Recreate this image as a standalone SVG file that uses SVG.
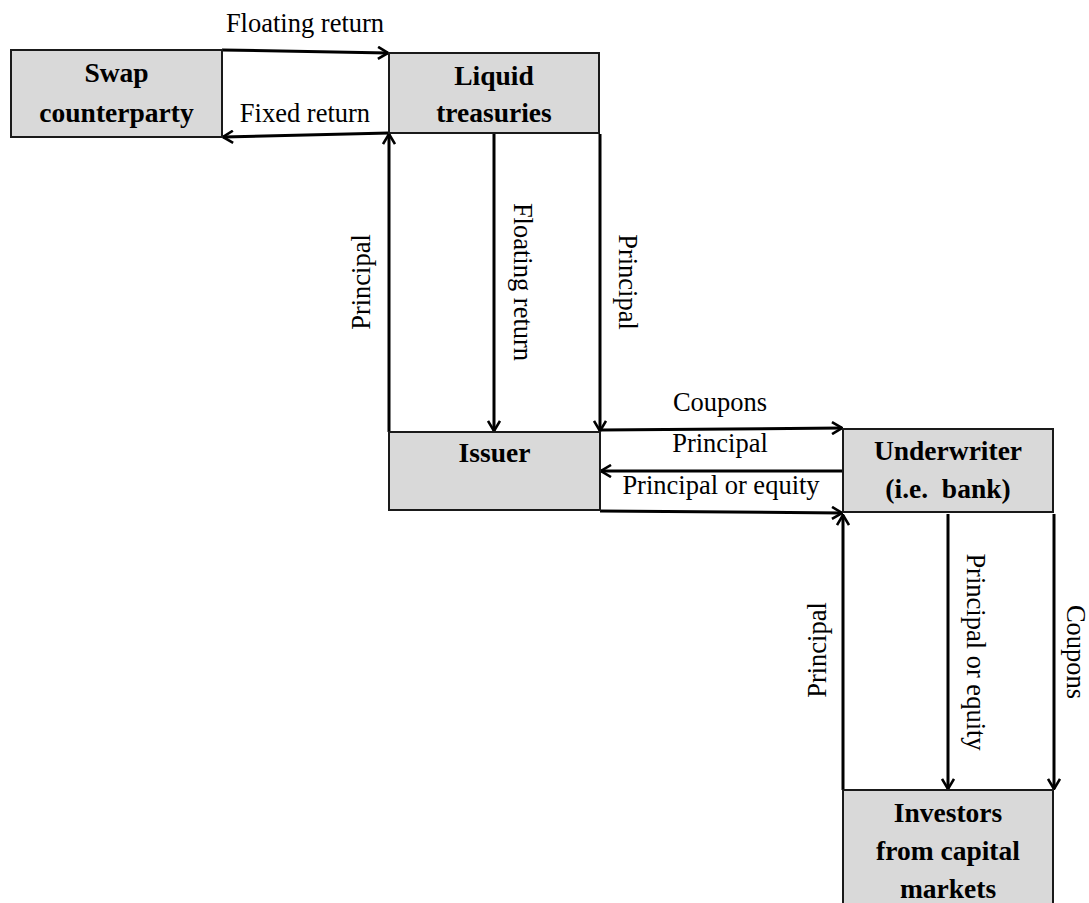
<svg xmlns="http://www.w3.org/2000/svg" width="1089" height="903" viewBox="0 0 1089 903" font-family="Liberation Serif, Times New Roman, serif">
<style>
.box{fill:#d9d9d9;stroke:#1a1a1a;stroke-width:2}
text{font-family:'Liberation Serif','Times New Roman',serif}
.nt{font-size:27.5px;font-weight:bold;text-anchor:middle;fill:#000}
.lb{font-size:26.5px;text-anchor:middle;fill:#000}
.ar{fill:none;stroke:#000;stroke-width:3;marker-end:url(#ah)}
</style>
<defs>
<marker id="ah" viewBox="0 0 12 14" refX="11" refY="7" markerWidth="12" markerHeight="14" markerUnits="userSpaceOnUse" orient="auto">
<path d="M1,1 L11,7 L1,13" fill="none" stroke="#000" stroke-width="2.6"/>
</marker>
</defs>
<rect width="1089" height="903" fill="#fff"/>
<g id="connectors">
<line class="ar" x1="222" y1="50" x2="388" y2="53"/>
<line class="ar" x1="389" y1="133" x2="223" y2="137"/>
<line class="ar" x1="389" y1="432" x2="389" y2="134"/>
<line class="ar" x1="494" y1="134" x2="494" y2="431"/>
<line class="ar" x1="600" y1="134" x2="600" y2="431"/>
<line class="ar" x1="600" y1="430" x2="842" y2="428"/>
<line class="ar" x1="843" y1="471" x2="601" y2="471"/>
<line class="ar" x1="600" y1="511" x2="842" y2="513"/>
<line class="ar" x1="843" y1="790" x2="843" y2="515"/>
<line class="ar" x1="948" y1="514" x2="948" y2="789"/>
<line class="ar" x1="1054" y1="514" x2="1054" y2="789"/>
<text class="lb" x="305" y="32">Floating return</text>
<text class="lb" x="305" y="122">Fixed return</text>
<text class="lb" x="720" y="411">Coupons</text>
<text class="lb" x="720" y="452">Principal</text>
<text class="lb" x="721" y="494">Principal or equity</text>
<text class="lb" transform="translate(370,282) rotate(-90)">Principal</text>
<text class="lb" transform="translate(514,282) rotate(90)">Floating return</text>
<text class="lb" transform="translate(619,282) rotate(90)">Principal</text>
<text class="lb" transform="translate(826,650) rotate(-90)">Principal</text>
<text class="lb" transform="translate(967,652) rotate(90)">Principal or equity</text>
<text class="lb" transform="translate(1067,652) rotate(90)">Coupons</text>
</g>
<g id="swap">
<rect class="box" x="11" y="50" width="211" height="87"/>
<text class="nt" x="116.5" y="82">Swap</text>
<text class="nt" x="116.5" y="122">counterparty</text>
</g>
<g id="liquid">
<rect class="box" x="389" y="53" width="210" height="80"/>
<text class="nt" x="494" y="85">Liquid</text>
<text class="nt" x="494" y="122">treasuries</text>
</g>
<g id="issuer">
<rect class="box" x="389" y="432" width="211" height="78"/>
<text class="nt" x="494.5" y="462">Issuer</text>
</g>
<g id="underwriter">
<rect class="box" x="843" y="429" width="210" height="83"/>
<text class="nt" x="948" y="460">Underwriter</text>
<text class="nt" x="948" y="498" xml:space="preserve">(i.e.  bank)</text>
</g>
<g id="investors">
<rect class="box" x="843" y="790" width="210" height="130"/>
<text class="nt" x="948" y="822">Investors</text>
<text class="nt" x="948" y="860">from capital</text>
<text class="nt" x="948" y="898">markets</text>
</g>
</svg>
